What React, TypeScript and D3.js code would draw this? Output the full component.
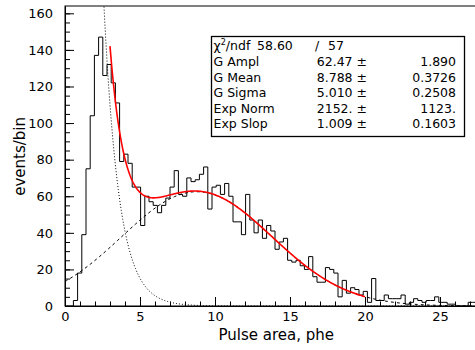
import { useEffect, useRef } from 'react';
import * as d3 from 'd3';

// histogram contents, bin width 0.28 phe starting at 0
const binWidth = 0.28;
const counts = [
  0, 0, 3, 18, 39, 75, 104, 137, 147, 126,
  132, 122, 111, 79, 83, 78, 65, 65, 44, 60,
  57, 55, 51, 55, 59, 65, 74, 61, 60, 70,
  68, 69, 72, 76, 53, 65, 66, 61, 67, 60,
  46, 46, 39, 61, 47, 40, 47, 37, 44, 41,
  31, 35, 37, 25, 24, 25, 22, 20, 27, 16,
  13, 13, 21, 20, 18, 5, 14, 7, 10, 9,
  6, 8, 2, 15, 3, 3, 6, 4, 4, 4,
  6, 1, 2, 4, 3, 2, 3, 3, 5, 2,
  2, 1, 1, 0, 0, 0, 2, 2,
];

// fit results (stats box)
const statNames = ['G Ampl', 'G Mean', 'G Sigma', 'Exp Norm', 'Exp Slop'];
const statValues = ['62.47', '8.788', '5.010', '2152.', '1.009'];
const statErrors = ['1.890', '0.3726', '0.2508', '1123.', '0.1603'];
const chi2 = '58.60';
const ndf = '57';
const fitRange = [3, 20];

const xMajorTicks = [0, 5, 10, 15, 20, 25];
const yMajorTicks = [0, 20, 40, 60, 80, 100, 120, 140, 160];

const W = 475;
const H = 350;

export default function App() {
  const svgRef = useRef<SVGSVGElement | null>(null);

  useEffect(() => {
    if (!svgRef.current) return;
    const svg = d3.select(svgRef.current);
    svg.selectAll('*').remove();

    const left = 65, top = 6, bottom = 306, right = 515;
    const x = d3.scaleLinear().domain([0, 30]).range([left, right]);
    const y = d3.scaleLinear().domain([0, 164]).range([bottom, top]);

    const [amp, mean, sigma, norm, slope] = statValues.map(Number);
    const gaus = (t: number) => amp * Math.exp(-0.5 * ((t - mean) / sigma) ** 2);
    const expo = (t: number) => norm * Math.exp(-t / slope);

    const font = 'DejaVu Sans, sans-serif';

    svg.append('defs').append('clipPath').attr('id', 'frame')
      .append('rect')
      .attr('x', left).attr('y', top)
      .attr('width', right - left).attr('height', bottom - top);

    // frame
    svg.append('rect')
      .attr('x', left).attr('y', top)
      .attr('width', right - left).attr('height', bottom - top)
      .attr('fill', 'none').attr('stroke', '#000').attr('stroke-width', 1);

    // axes, ticks inside
    const xMinor = svg.append('g').attr('transform', `translate(0,${bottom})`)
      .call(d3.axisBottom(x).tickValues(d3.range(0, 31, 1)).tickSize(-4.5).tickSizeOuter(0).tickFormat(() => ''));
    const xMajor = svg.append('g').attr('transform', `translate(0,${bottom})`)
      .call(d3.axisBottom(x).tickValues(xMajorTicks).tickSize(-9).tickSizeOuter(0).tickPadding(6).tickFormat(d3.format('d')));
    const yMinor = svg.append('g').attr('transform', `translate(${left},0)`)
      .call(d3.axisLeft(y).tickValues(d3.range(0, 165, 5)).tickSize(-5).tickSizeOuter(0).tickFormat(() => ''));
    const yMajor = svg.append('g').attr('transform', `translate(${left},0)`)
      .call(d3.axisLeft(y).tickValues(yMajorTicks).tickSize(-9).tickSizeOuter(0).tickPadding(12).tickFormat(d3.format('d')));

    [xMinor, xMajor, yMinor, yMajor].forEach(g => {
      g.select('.domain').attr('stroke', '#000');
      g.selectAll('line').attr('stroke', '#000');
      g.selectAll('text').attr('font-family', font).attr('font-size', 13).attr('fill', '#000');
    });

    // axis titles
    svg.append('text')
      .attr('x', 334).attr('y', 340)
      .attr('text-anchor', 'end')
      .attr('font-family', font).attr('font-size', 15)
      .text('Pulse area, phe');

    svg.append('text')
      .attr('transform', 'translate(25,117) rotate(-90)')
      .attr('text-anchor', 'end')
      .attr('font-family', font).attr('font-size', 15)
      .text('events/bin');

    const plot = svg.append('g').attr('clip-path', 'url(#frame)');

    // histogram outline
    const pts: [number, number][] = counts.map((c, i) => [i * binWidth, c]);
    pts.push([counts.length * binWidth, counts[counts.length - 1]]);
    const step = d3.line<[number, number]>()
      .x(d => x(d[0])).y(d => y(d[1]))
      .curve(d3.curveStepAfter);
    plot.append('path')
      .attr('d', step(pts))
      .attr('fill', 'none').attr('stroke', '#000').attr('stroke-width', 1);

    const curve = d3.line<number>()
      .x(t => x(t));

    // gaussian component (dashed)
    plot.append('path')
      .attr('d', curve.y(t => y(gaus(t)))(d3.range(0, 30.01, 0.1)))
      .attr('fill', 'none').attr('stroke', '#000').attr('stroke-width', 1)
      .attr('stroke-dasharray', '3,3');

    // exponential component (dotted)
    plot.append('path')
      .attr('d', curve.y(t => y(Math.min(expo(t), 400)))(d3.range(1.5, 30.01, 0.05)))
      .attr('fill', 'none').attr('stroke', '#000').attr('stroke-width', 1)
      .attr('stroke-dasharray', '1,2');

    // total fit
    plot.append('path')
      .attr('d', curve.y(t => y(gaus(t) + expo(t)))(d3.range(fitRange[0], fitRange[1] + 0.001, 0.05)))
      .attr('fill', 'none').attr('stroke', '#ff0000').attr('stroke-width', 1.6);

    // stats box
    const box = svg.append('g');
    box.append('rect')
      .attr('x', 211.5).attr('y', 36.5).attr('width', 253).attr('height', 100)
      .attr('fill', '#fff').attr('stroke', '#000').attr('stroke-width', 1.3);

    const fs = 12.5;
    const t1 = box.append('text').attr('x', 213.5).attr('y', 50)
      .attr('font-family', font).attr('font-size', fs);
    t1.append('tspan').text('χ');
    t1.append('tspan').attr('font-size', 8).attr('dy', -5).text('2');
    t1.append('tspan').attr('dy', 5).text('/ndf');
    box.append('text').attr('x', 257).attr('y', 50)
      .attr('font-family', font).attr('font-size', fs).text(chi2);
    box.append('text').attr('x', 315).attr('y', 50)
      .attr('font-family', font).attr('font-size', fs).text('/');
    box.append('text').attr('x', 328).attr('y', 50)
      .attr('font-family', font).attr('font-size', fs).text(ndf);

    const rowY = [66, 81.5, 97, 112.5, 128];
    statNames.forEach((name, i) => {
      box.append('text').attr('x', 213.5).attr('y', rowY[i])
        .attr('font-family', font).attr('font-size', fs).text(name);
      box.append('text').attr('x', 367).attr('y', rowY[i])
        .attr('text-anchor', 'end')
        .attr('font-family', font).attr('font-size', fs).text(`${statValues[i]} ±`);
      box.append('text').attr('x', 456).attr('y', rowY[i])
        .attr('text-anchor', 'end')
        .attr('font-family', font).attr('font-size', fs).text(statErrors[i]);
    });
  }, []);

  return (
    <svg
      ref={svgRef}
      width={W}
      height={H}
      style={{ position: 'absolute', left: 0, top: 0, background: '#fff' }}
    />
  );
}
